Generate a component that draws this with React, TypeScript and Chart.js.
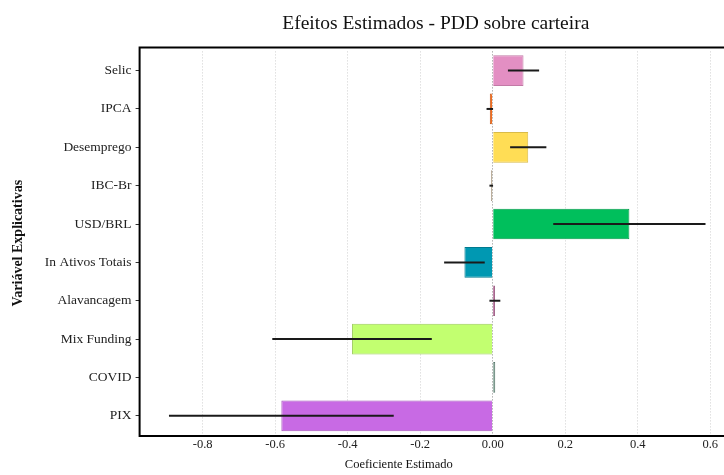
import React, { useEffect, useRef } from "react";
import { Chart, registerables } from "chart.js";

Chart.register(...registerables);

const categories = ["Selic", "IPCA", "Desemprego", "IBC-Br", "USD/BRL", "In Ativos Totais", "Alavancagem", "Mix Funding", "COVID", "PIX"];
const coefficients = [0.085, -0.008, 0.098, -0.004, 0.377, -0.078, 0.006, -0.388, 0.007, -0.583];
const errors = [0.043, 0.009, 0.05, 0.005, 0.21, 0.056, 0.015, 0.22, 0, 0.31];
const barColors = ["#e38fc3", "#f26d1f", "#ffdd55", "#8c6b3d", "#00bf5c", "#0098b2", "#a3457f", "#c2ff70", "#6f9585", "#c86ae4"];
const barBorders = ["#c27aa6", "#c85a18", "#d9bb48", "#6a5230", "#00994a", "#007a8f", "#803563", "#9ccc5a", "#56766a", "#a555bd"];
const xTicks = [-0.8, -0.6, -0.4, -0.2, 0, 0.2, 0.4, 0.6];
const xTickLabels = ["-0.8", "-0.6", "-0.4", "-0.2", "0.00", "0.2", "0.4", "0.6"];

const TITLE = "Efeitos Estimados - PDD sobre carteira";
const X_TITLE = "Coeficiente Estimado";
const SERIF = "'Liberation Serif', 'Times New Roman', serif";

export default function App() {
  const ref = useRef<HTMLCanvasElement>(null);
  useEffect(() => {
    document.body.style.margin = "0";
    document.body.style.overflow = "hidden";
    const errorBars = {
      id: "errorBars",
      afterDatasetsDraw(chart: any) {
        const meta = chart.getDatasetMeta(0);
        const xs = chart.scales.x;
        const ctx = chart.ctx;
        ctx.save();
        ctx.strokeStyle = "#1a1a1a";
        ctx.lineWidth = 2;
        meta.data.forEach((el: any, i: number) => {
          if (!errors[i]) return;
          const y = el.y;
          ctx.beginPath();
          ctx.moveTo(xs.getPixelForValue(coefficients[i] - errors[i]), y);
          ctx.lineTo(xs.getPixelForValue(coefficients[i] + errors[i]), y);
          ctx.stroke();
        });
        ctx.restore();
      },
      afterDraw(chart: any) {
        const a = chart.chartArea;
        const ctx = chart.ctx;
        ctx.save();
        ctx.strokeStyle = "#000";
        ctx.lineWidth = 2;
        ctx.beginPath();
        ctx.moveTo(a.right + 2, a.top - 4);
        ctx.lineTo(a.left, a.top - 4);
        ctx.lineTo(a.left, a.bottom + 1);
        ctx.lineTo(a.right + 2, a.bottom + 1);
        ctx.stroke();
        // titles
        const tb = chart.titleBlock;
        ctx.fillStyle = "#111";
        ctx.textAlign = "center";
        ctx.textBaseline = "middle";
        ctx.font = `19.5px ${SERIF}`;
        const cx = (a.left + a.right) / 2 + 4;
        ctx.fillText(TITLE, cx, tb.top + 12 + 11.7);
        ctx.font = `12.5px ${SERIF}`;
        ctx.fillText(X_TITLE, (a.left + a.right) / 2 - 33, chart.height - 10);
        ctx.restore();
      },
    };
    const chart = new Chart(ref.current!, {
      type: "bar",
      data: {
        labels: categories,
        datasets: [
          {
            data: coefficients,
            backgroundColor: barColors,
            borderColor: barBorders,
            borderWidth: 1,
            barPercentage: 0.8,
            categoryPercentage: 1,
          },
        ],
      },
      options: {
        indexAxis: "y",
        animation: false,
        responsive: false,
        layout: { padding: { left: 10, right: 0, top: 0, bottom: 0 } },
        plugins: {
          legend: { display: false },
          tooltip: { enabled: false },
          title: {
            display: true,
            text: TITLE,
            color: "rgba(0,0,0,0)",
            font: { family: SERIF, size: 19.5, weight: "normal" },
            padding: { top: 12, bottom: 16 },
          },
        },
        scales: {
          x: {
            type: "linear",
            min: -0.974,
            max: 0.638,
            afterBuildTicks: (axis: any) => {
              axis.ticks = xTicks.map((v) => ({ value: v }));
            },
            ticks: {
              color: "#222",
              font: { family: SERIF, size: 12.5 },
              padding: 2,
              callback: (v: any) => {
                const i = xTicks.findIndex((t) => Math.abs(t - Number(v)) < 1e-6);
                return i >= 0 ? xTickLabels[i] : "";
              },
            },
            grid: {
              color: (c: any) => (c.tick && c.tick.value === 0 ? "#8a8a8a" : "#cfcfcf"),
              lineWidth: 1,
              drawTicks: false,
            },
            border: { display: false, dash: [1, 2] },
            title: {
              display: true,
              text: X_TITLE,
              color: "rgba(0,0,0,0)",
              font: { family: SERIF, size: 12.5 },
              padding: { top: 4, bottom: 2 },
            },
          },
          y: {
            type: "category",
            ticks: {
              color: "#222",
              font: { family: SERIF, size: 13.5 },
              padding: 4,
            },
            grid: {
              offset: false,
              drawOnChartArea: false,
              drawTicks: true,
              tickLength: 4,
              color: "#333",
            },
            border: { display: false },
            title: {
              display: true,
              text: "Variável Explicativas",
              color: "#111",
              font: { family: SERIF, size: 14, weight: "bold" },
              padding: { top: 0, bottom: 14 },
            },
          },
        },
      },
      plugins: [errorBars],
    } as any);
    return () => chart.destroy();
  }, []);
  return <canvas ref={ref} width={724} height={475} style={{ display: "block" }} />;
}
